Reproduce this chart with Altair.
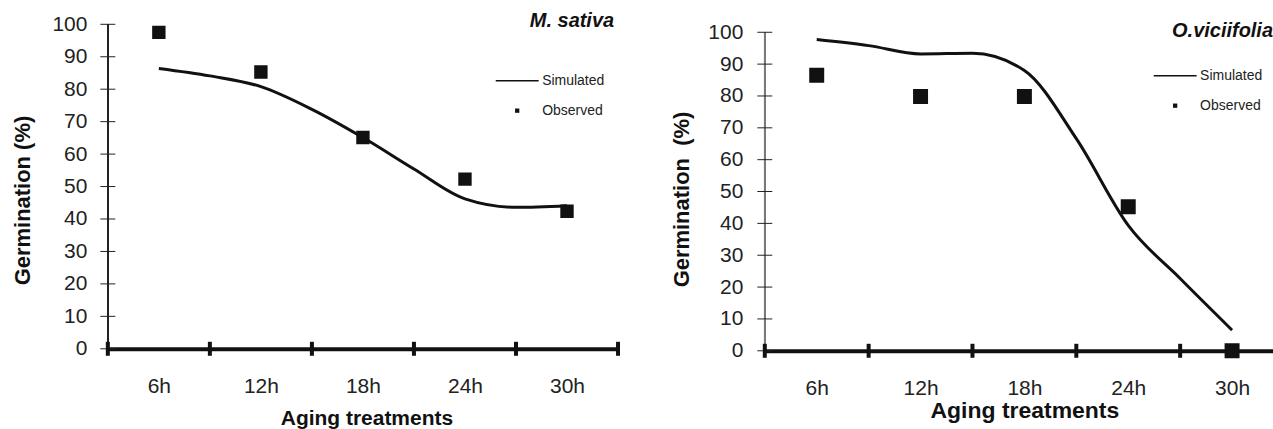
import altair as alt
import pandas as pd

# ---------------- data ----------------
categories = ["6h", "12h", "18h", "24h", "30h"]
category_hours = [6, 12, 18, 24, 30]
band_edges = [3, 9, 15, 21, 27, 33]
y_ticks = [0, 10, 20, 30, 40, 50, 60, 70, 80, 90, 100]

sim_hours = [6, 9, 12, 15, 18, 21, 24, 27, 30]
sativa_sim = [86.4, 84.1, 80.8, 73.8, 65.1, 55.4, 46.2, 43.6, 44.1]
sativa_obs = [97.5, 85.3, 65.1, 52.3, 42.4]
vicii_sim = [97.7, 95.8, 93.2, 93.4, 88.0, 66.6, 39.4, 22.7, 6.5]
vicii_obs = [86.5, 79.8, 79.8, 45.2, 0.0]

series_names = ["Simulated", "Observed"]
species = ["M. sativa", "O.viciifolia"]

# ---------------- style ----------------
FONT = "Liberation Sans, Arial, sans-serif"
LINE_PATH = "M-3,-0.1H3V0.1H-3Z"
SQUARE_PATH = "M-0.3,-0.3H0.3V0.3H-0.3Z"


def panel(name, sim, obs, width, height, xmax, ymax, yaxis_color, yaxis_w,
          x_title_size, x_title_pad, x_title_x, y_title, y_title_pad, y_title_y,
          y_label_pad, sq_size, legend_x, legend_y, name_x, name_y):
    xs = alt.Scale(domain=[3, xmax], nice=False, zero=False)
    ys = alt.Scale(domain=[0, ymax], nice=False, zero=False)
    xaxis = alt.Axis(
        values=category_hours, labelExpr="datum.value + 'h'", ticks=False, tickSize=0,
        grid=False, labelPadding=27, labelFontSize=21, labelFont=FONT, labelColor="#222",
        domainColor="#111", domainWidth=4, title="Aging treatments", titleFont=FONT,
        titleFontSize=x_title_size, titleFontWeight="bold", titleColor="#111",
        titlePadding=x_title_pad, titleX=x_title_x,
    )
    yaxis = alt.Axis(
        values=y_ticks, ticks=False, tickSize=0, domain=False, grid=False,
        labelPadding=y_label_pad, labelFontSize=21, labelFont=FONT, labelColor="#222",
        title=y_title, titleFont=FONT, titleFontSize=22, titleFontWeight="bold",
        titleColor="#111", titlePadding=y_title_pad, titleY=y_title_y,
    )

    sim_df = pd.DataFrame({"h": sim_hours, "v": sim})
    obs_df = pd.DataFrame({"h": category_hours, "v": obs, "series": series_names[1]})
    xt_df = pd.DataFrame({"t": [t for t in band_edges if t <= xmax]})
    yt_df = pd.DataFrame({"t": y_ticks})

    yrule = alt.Chart(yt_df).mark_rule(color=yaxis_color, strokeWidth=yaxis_w).encode(
        x=alt.X(datum=3, type="quantitative", scale=xs, axis=xaxis),
        y=alt.Y(datum=0, type="quantitative", scale=ys, axis=yaxis),
        y2=alt.datum(100),
    )
    yticks = alt.Chart(yt_df).mark_tick(orient="horizontal", color="#222", size=15,
                                         thickness=1, opacity=1).encode(
        x=alt.X(datum=3, type="quantitative", scale=xs, axis=xaxis),
        y=alt.Y("t:Q", scale=ys, axis=yaxis),
    )
    xticks = alt.Chart(xt_df).mark_tick(orient="vertical", color="#111", size=14,
                                         thickness=4, opacity=1).encode(
        x=alt.X("t:Q", scale=xs, axis=xaxis),
        y=alt.Y(datum=0, type="quantitative", scale=ys, axis=yaxis),
    )
    line = alt.Chart(sim_df).mark_line(color="#111", strokeWidth=3,
                                       interpolate="monotone").encode(
        x=alt.X("h:Q", scale=xs, axis=xaxis),
        y=alt.Y("v:Q", scale=ys, axis=yaxis),
    )
    points = alt.Chart(obs_df).mark_point(filled=True, fill="#111", stroke="#111",
                                          strokeWidth=2, size=sq_size, opacity=1).encode(
        x=alt.X("h:Q", scale=xs, axis=xaxis),
        y=alt.Y("v:Q", scale=ys, axis=yaxis),
        shape=alt.Shape(
            "series:N",
            scale=alt.Scale(domain=series_names, range=[LINE_PATH, SQUARE_PATH]),
            legend=alt.Legend(
                title=None, orient="none", legendX=legend_x, legendY=legend_y,
                labelFont=FONT, labelFontSize=14, labelColor="#222",
                symbolSize=205, symbolStrokeWidth=1, symbolStrokeColor="#111",
                symbolFillColor="#111", symbolOpacity=1, labelOffset=17,
                rowPadding=15, padding=0,
            ),
        ),
    )
    label = alt.Chart(pd.DataFrame({"name": [name]})).mark_text(
        align="right", baseline="middle", font=FONT, fontSize=20,
        fontStyle="italic", fontWeight="bold", color="#111",
    ).encode(
        x=alt.X(datum=name_x, type="quantitative", scale=xs, axis=xaxis),
        y=alt.Y(datum=name_y, type="quantitative", scale=ys, axis=yaxis),
        text="name:N",
    )
    return alt.layer(yrule, yticks, xticks, line, points, label).properties(
        width=width, height=height
    )


left = panel(species[0], sativa_sim, sativa_obs, width=511, height=325, xmax=33,
             ymax=100, yaxis_color="#222", yaxis_w=1,
             x_title_size=21, x_title_pad=11, x_title_x=259,
             y_title="Germination (%)", y_title_pad=17, y_title_y=176,
             y_label_pad=21, sq_size=1444, legend_x=402, legend_y=48.5,
             name_x=32.77, name_y=100.9)

right = panel(species[1], vicii_sim, vicii_obs, width=509, height=327, xmax=32.365,
              ymax=102.5, yaxis_color="#7a7a7a", yaxis_w=1.6,
              x_title_size=23, x_title_pad=1, x_title_x=260,
              y_title="Germination\u00a0 (%)", y_title_pad=14, y_title_y=175,
              y_label_pad=22, sq_size=1878, legend_x=403, legend_y=43.5,
              name_x=32.365, name_y=100.3)

chart = alt.hconcat(left, right, spacing=147, bounds="flush").resolve_scale(
    shape="independent"
).resolve_legend(shape="independent").configure_view(
    stroke=None
).properties(
    padding={"left": 11, "top": 11, "right": 0, "bottom": 0},
    background="white",
)

chart.save("out.html", embed_options={"renderer": "svg", "actions": False})
